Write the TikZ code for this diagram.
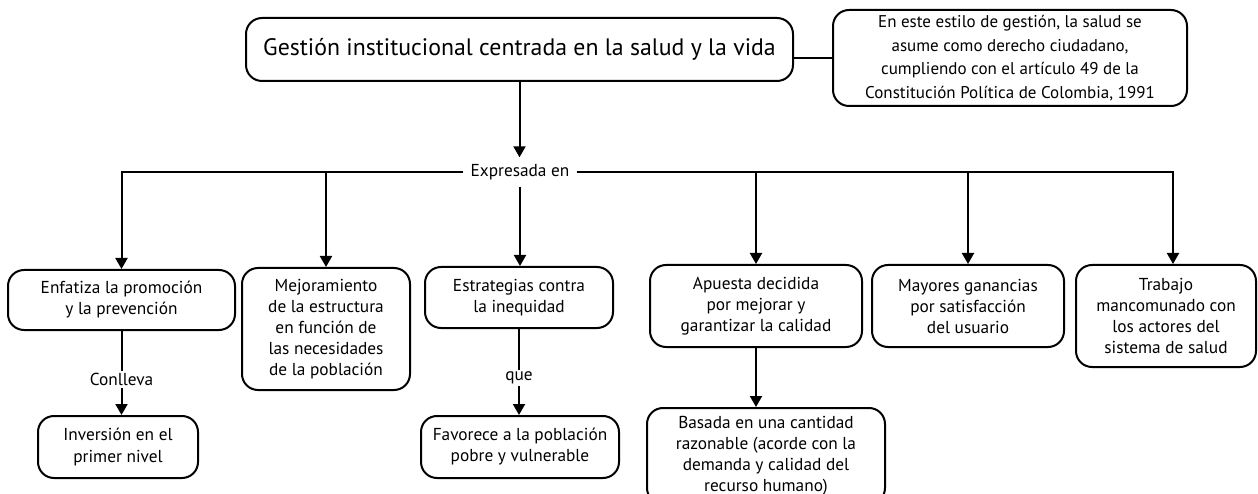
\documentclass[tikz,border=0pt]{standalone}
\usepackage{fontspec}
\setmainfont{PT Sans}
\usetikzlibrary{arrows.meta,calc}
\tikzset{
  box/.style={draw, line width=2pt, rounded corners=16pt, align=center, inner sep=0pt,
    font=\fontsize{17.3}{21}\selectfont},
  arr/.style={line width=2pt, -{Triangle[length=11pt,width=12pt]}},
  ln/.style={line width=2pt},
  lbl/.style={fill=white, inner sep=2pt, font=\fontsize{17.3}{21}\selectfont}
}
\begin{document}
\begin{tikzpicture}[x=1pt,y=-1pt]
\clip (0,0) rectangle (1258,494);
\fill[white] (0,0) rectangle (1258,494);
% top
\node[box, minimum width=547pt, minimum height=63pt, font=\fontsize{23.8}{28}\selectfont] (main) at (519.5,49.5) {Gestión institucional centrada en la salud y la vida};
\node[box, minimum width=354pt, minimum height=96pt, font=\fontsize{17}{23.5}\selectfont] (rb) at (1010,58) {En este estilo de gestión, la salud se\\asume como derecho ciudadano,\\cumpliendo con el artículo 49 de la\\Constitución Política de Colombia, 1991};
\draw[ln] (rb.west) -- (rb.west -| main.east);
% expresada
\node[lbl, inner xsep=7pt, minimum height=29pt, fill=white] (exp) at (520,172) {Expresada en};
\draw[arr] (main.south) -- (main.south |- exp.north);
% row 1
\node[box, minimum width=227pt, minimum height=60pt] (n1) at (121.5,300) {Enfatiza la promoción\\y la prevención};
\node[box, minimum width=168pt, minimum height=122pt] (n2) at (326,329) {Mejoramiento\\de la estructura\\en función de\\las necesidades\\de la población};
\node[box, minimum width=188pt, minimum height=61pt] (n3) at (519,297.5) {Estrategias contra\\la inequidad};
\node[box, minimum width=212pt, minimum height=82pt] (n4) at (756,306) {Apuesta decidida\\por mejorar y\\garantizar la calidad};
\node[box, minimum width=192pt, minimum height=82pt] (n5) at (968,306) {Mayores ganancias\\por satisfacción\\del usuario};
\node[box, minimum width=180pt, minimum height=102pt] (n6) at (1166,316) {Trabajo\\mancomunado con\\los actores del\\sistema de salud};
\coordinate (n6top) at ($(n6.north)+(7,0)$);
\draw[arr] (exp.west) -| (n1.north);
\draw[arr] (exp.west) -| (n2.north);
\draw[arr] (exp.south) -- (exp.south |- n3.north);
\draw[arr] (exp.east) -| (n4.north);
\draw[arr] (exp.east) -| (n5.north);
\draw[arr] (exp.east) -| (n6top);
% row 2
\node[box, minimum width=160pt, minimum height=62pt] (m1) at (118,447) {Inversión en el\\primer nivel};
\node[box, minimum width=198pt, minimum height=62pt] (m2) at (520,447) {Favorece a la población\\pobre y vulnerable};
\node[box, minimum width=238pt, minimum height=96pt] (m3) at (766,456) {Basada en una cantidad\\razonable (acorde con la\\demanda y calidad del\\recurso humano)};
\draw[arr] (n1.south) -- (n1.south |- m1.north) node[lbl, pos=0.58] (c1) {Conlleva};
\draw[arr] (n3.south) -- (n3.south |- m2.north) node[lbl, pos=0.57] (c2) {que};
\draw[arr] (n4.south) -- (n4.south |- m3.north);
\end{tikzpicture}
\end{document}
